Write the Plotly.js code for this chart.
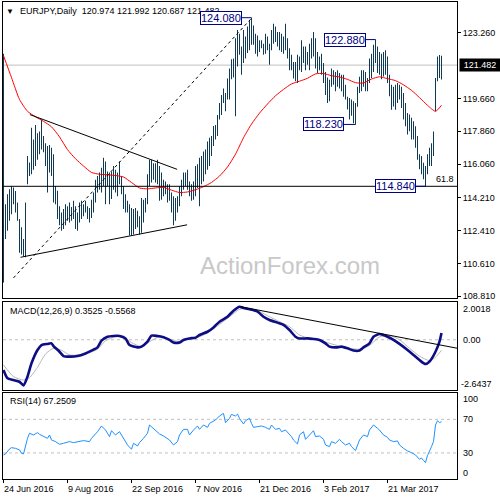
<!DOCTYPE html>
<html>
<head>
<meta charset="utf-8">
<script src="https://cdn.plot.ly/plotly-3.0.1.min.js"></script>
<style>html,body{margin:0;padding:0;background:#fff;}#chart{width:500px;height:500px;}</style>
</head>
<body>
<div id="chart"></div>
<script>
// ---- Daily bars (high / low), bar index 0 = 24 Jun 2016 ----
const hi = [122.10,113.86,114.40,114.68,114.86,114.77,114.58,113.95,113.05,112.60,
111.95,113.95,116.50,116.15,118.05,117.40,118.20,117.75,117.85,118.50,
117.60,117.20,117.05,117.10,116.95,116.60,114.85,114.60,113.75,113.40,
113.60,113.85,113.75,113.95,113.70,114.05,113.75,113.40,113.95,114.05,
113.85,114.05,113.75,113.65,114.10,114.50,115.20,115.40,115.60,115.85,
116.40,116.20,115.65,115.60,115.65,115.95,115.75,115.60,116.20,115.40,
114.85,114.40,114.05,113.85,113.65,113.60,113.65,113.50,113.20,114.20,
114.10,114.20,115.50,116.30,116.30,116.10,116.10,116.30,115.95,115.60,
115.20,115.10,114.95,114.95,114.50,114.30,114.20,114.30,114.85,115.20,
115.60,115.60,115.75,115.10,114.95,115.10,115.95,116.05,116.40,116.50,
116.75,116.85,117.30,117.50,117.60,118.15,118.20,118.75,119.40,119.85,
120.20,119.95,120.75,121.30,121.80,121.85,122.95,123.40,123.20,122.50,
123.40,123.05,123.60,123.95,124.08,123.65,123.20,123.10,122.85,122.85,
122.65,123.20,123.05,122.65,123.40,123.75,123.60,123.30,123.30,123.20,
123.05,123.75,122.95,122.40,122.05,121.65,121.65,122.05,121.95,122.85,
122.50,122.50,122.20,122.65,122.95,123.30,122.95,122.20,121.95,122.10,
121.60,121.10,120.80,120.68,121.30,121.20,121.10,121.20,121.05,120.95,
120.95,120.40,119.75,119.68,119.60,119.50,119.40,120.30,120.85,121.20,
121.20,121.10,120.77,121.85,122.10,122.60,122.88,122.50,122.20,122.10,
122.20,122.30,121.95,120.95,120.40,120.30,120.40,120.50,120.40,120.30,
119.95,119.40,118.86,118.77,118.60,118.40,118.13,117.60,116.60,116.50,
116.13,115.95,116.60,116.95,117.20,117.85,120.77,121.95,122.04,121.992];
const lo = [109.57,111.95,112.40,112.95,113.31,113.86,113.40,112.95,111.20,111.10,
111.00,110.95,114.95,115.40,115.50,115.75,115.95,116.30,116.60,116.85,
116.70,115.95,114.50,115.60,115.40,113.95,113.85,113.05,112.70,112.40,
112.50,112.70,112.95,112.85,112.95,113.05,112.50,112.40,112.85,113.05,
113.20,113.40,113.05,112.85,113.10,113.40,113.95,114.50,114.65,114.50,
114.85,113.85,114.85,113.85,114.15,114.65,114.50,114.30,114.95,114.40,
113.60,113.40,113.40,112.15,112.15,112.20,112.50,112.60,112.20,112.30,
112.85,113.40,113.85,114.85,115.05,115.20,115.05,114.95,114.05,114.10,
114.30,114.40,113.95,114.05,113.40,112.70,112.95,113.40,113.75,114.30,
114.65,114.85,114.65,114.30,114.05,114.10,114.30,114.75,113.75,114.95,
115.10,115.50,115.75,115.95,116.50,117.05,117.40,117.60,118.50,118.75,
119.40,118.95,119.60,119.60,120.70,120.80,118.68,121.40,122.05,120.95,
121.60,121.85,122.15,122.30,122.60,122.60,122.10,121.95,122.20,122.40,
122.05,122.10,122.30,121.50,122.30,122.65,122.75,122.50,122.30,122.20,
122.10,122.30,121.85,121.20,121.20,120.75,120.60,120.50,121.20,121.10,
121.60,121.20,121.50,121.20,121.85,121.95,121.30,121.05,121.20,120.95,
120.50,119.85,119.40,119.50,120.30,120.40,120.05,120.30,120.20,120.05,
119.75,119.60,119.05,118.50,118.70,118.30,118.23,119.20,119.95,120.05,
120.30,120.05,120.05,120.50,120.77,121.10,121.60,121.05,120.95,120.70,
120.86,120.95,120.50,119.77,119.04,119.22,119.04,119.40,119.60,119.13,
118.50,118.13,117.68,117.86,117.40,117.40,116.95,116.30,115.77,115.50,
115.22,114.84,115.50,115.95,115.95,116.50,118.95,120.60,120.77,120.687];

// ---- Moving average (red), sampled ----
const maIdx = [0,4,8,12,16,20,24,28,32,36,40,44,48,52,56,60,64,68,72,76,80,84,88,92,96,100,104,108,112,116,120,124,128,132,136,140,144,148,152,156,160,164,168,172,176,180,184,188,192,196,200,204,208,212,216,219];
const maVal = [122.0,120.8,119.6,118.95,118.65,118.4,118.1,117.55,116.85,116.35,115.95,115.6,115.5,115.47,115.43,115.35,115.05,114.75,114.7,114.75,114.78,114.63,114.5,114.53,114.65,114.82,115.05,115.4,115.9,116.6,117.5,118.25,118.85,119.35,119.8,120.15,120.45,120.6,120.76,121.0,121.02,120.9,120.83,120.7,120.52,120.5,120.72,120.84,120.74,120.63,120.4,120.1,119.7,119.28,118.95,119.28];

// ---- MACD(12,26,9) main line and signal, sampled ----
const macdIdx = [0,2,5,8,10,12,14,17,19,22,24,25,28,30,33,37,41,44,47,49,52,55,58,61,63,67,69,72,74,77,80,83,85,88,90,93,96,98,102,105,108,112,115,118,120,123,127,130,133,137,140,143,146,148,152,155,158,161,163,167,169,172,175,178,180,183,185,188,192,195,198,202,205,208,211,213,216,218,219];
const macdVal = [-1.59,-2.03,-2.12,-2.21,-2.40,-1.94,-1.24,-0.54,-0.28,-0.22,-0.19,-0.33,-0.63,-0.86,-0.89,-0.86,-0.72,-0.57,-0.40,-0.05,0.16,0.20,0.20,0.07,-0.28,-0.40,-0.36,-0.10,0.22,0.20,0.13,-0.01,-0.15,-0.15,-0.01,0.07,0.11,0.25,0.42,0.65,0.95,1.21,1.53,1.74,1.67,1.60,1.48,1.21,1.04,0.90,0.78,0.51,0.16,0.07,0.07,0.04,-0.01,-0.19,-0.36,-0.40,-0.36,-0.45,-0.57,-0.57,-0.40,-0.19,0.16,0.30,0.16,-0.01,-0.22,-0.54,-0.80,-1.07,-1.28,-1.15,-0.63,-0.10,0.3525];
const sigIdx = [0,5,10,13,17,21,25,29,33,38,43,47,51,56,60,64,69,73,78,83,88,93,98,103,108,113,118,123,128,133,138,143,148,153,158,163,168,173,178,183,188,193,198,203,208,213,216,219];
const sigVal = [-1.33,-1.94,-2.12,-2.0,-1.45,-0.75,-0.45,-0.55,-0.80,-0.80,-0.68,-0.50,-0.05,0.16,0.16,-0.15,-0.36,-0.10,0.16,0.02,-0.10,0.07,0.16,0.43,0.81,1.21,1.60,1.65,1.48,1.21,0.95,0.69,0.25,0.07,-0.01,-0.19,-0.33,-0.45,-0.50,-0.30,0.15,0.22,0.0,-0.45,-0.86,-1.10,-0.92,-0.5568];

// ---- RSI(14), sampled ----
const rsiIdx = [0,1,3,4,6,8,9,10,12,13,15,17,18,20,22,23,24,26,28,30,32,33,35,38,40,43,44,47,49,51,53,54,56,58,59,61,62,64,65,67,68,70,72,73,75,77,78,80,82,83,85,87,88,90,92,93,95,97,98,100,102,103,106,108,110,111,113,114,116,117,118,120,121,123,124,125,127,129,131,133,134,136,138,139,141,143,144,145,147,148,150,151,153,155,156,158,160,161,163,164,166,168,169,171,173,174,176,177,178,180,182,183,185,187,188,190,192,193,195,197,198,200,202,204,206,208,209,210,211,212,213,214,215,216,217,218,219];
const rsiVal = [27.6,28.8,34.8,36.3,35.5,33.6,29.6,28.8,47.4,53.4,51.4,54.2,52.2,49.4,47.4,51.4,45.4,43.5,40.3,41.5,42.7,43.5,42.3,43.5,44.7,43.5,47.4,55.3,62.1,57.3,49.4,56.5,51.4,55.3,51.4,43.5,39.5,34.4,41.5,38.3,42.3,47.4,53.4,63.3,59.3,54.2,52.6,50.2,47.4,45.4,39.5,43.5,51.4,58.1,58.1,51.4,57.3,62.1,58.1,63.3,60.5,65.2,69.2,74.0,77.1,66.0,71.2,75.9,74.0,76.3,71.2,64.5,68.4,71.2,65.2,60.5,61.3,62.1,60.5,58.1,63.3,58.1,59.3,55.3,57.3,52.6,49.4,45.4,40.7,51.4,55.3,46.2,51.4,56.5,49.4,50.2,46.2,39.5,37.5,43.5,41.5,46.2,43.5,39.5,41.5,37.5,32.8,39.5,45.4,51.4,49.4,57.3,63.3,59.3,57.3,51.4,48.6,45.4,43.5,44.3,39.5,35.5,32.4,30.4,27.6,22.5,24.0,21.0,18.5,27.0,31.6,37.5,43.5,63.3,68.4,66.0,67.25];

// ---- Axis labels ----
const priceTicks = [108.81,110.61,112.41,114.21,116.06,117.86,119.66,123.26];
const dateTickIdx = [0,32,64,96,128,160,192];
const dateTickText = ['24 Jun 2016','9 Aug 2016','22 Sep 2016','7 Nov 2016','21 Dec 2016','3 Feb 2017','21 Mar 2017'];

// ---- Marked levels and drawn lines ----
const lastPrice = 121.482;
const fibLevel = 114.84;
const pivotLabels = ['124.080','122.880','118.230','114.840'];
const pivotPrice = [124.08,122.88,118.23,114.84];
const pivotBar = [124,186,176,211];
const pivotBoxEnd = [119,181,170,206];
const upperTri = {x:[13.2,86.8], y:[118.77,115.77]};
const lowerTri = {x:[8.5,91.8], y:[110.95,112.73]};
const dashedTrend = {x:[5,124], y:[109.82,124.05]};
const macdTrend = {x:[118.5,227], y:[1.74,-0.45]};

const idx = hi.map((_, i) => i);
const rng = hi.map((h, i) => +(h - lo[i]).toFixed(3));

const F = 'Liberation Sans, Arial, sans-serif';
const traces = [
  {type:'bar', x:idx, y:rng, base:lo, width:0.5, marker:{color:'#0f3a55', line:{width:0}}, xaxis:'x', yaxis:'y', hoverinfo:'skip'},
  {type:'scatter', mode:'lines', x:maIdx, y:maVal, line:{color:'#ff0000', width:1, shape:'spline', smoothing:0.6}, xaxis:'x', yaxis:'y'},
  {type:'scatter', mode:'lines', x:sigIdx, y:sigVal, line:{color:'#b4b4b4', width:1, shape:'spline', smoothing:0.6}, xaxis:'x2', yaxis:'y2'},
  {type:'scatter', mode:'lines', x:macdIdx, y:macdVal, line:{color:'#0d0d86', width:2.6, shape:'spline', smoothing:0.6}, xaxis:'x2', yaxis:'y2'},
  {type:'scatter', mode:'lines', x:rsiIdx, y:rsiVal, line:{color:'#1e90ff', width:1}, xaxis:'x3', yaxis:'y3'}
];

const axBase = {showgrid:false, zeroline:false, showline:true, mirror:true, linecolor:'#000', linewidth:1, fixedrange:true};
const xr = [-0.25, 226.75];

const shapes = [
  {type:'line', xref:'paper', yref:'y', x0:0, x1:1, y0:lastPrice, y1:lastPrice, line:{color:'#c0c0c0', width:1}, layer:'below'},
  {type:'line', xref:'paper', yref:'y', x0:0, x1:1, y0:fibLevel, y1:fibLevel, line:{color:'#000', width:1}},
  {type:'line', xref:'x', yref:'y', x0:upperTri.x[0], x1:upperTri.x[1], y0:upperTri.y[0], y1:upperTri.y[1], line:{color:'#000', width:1}},
  {type:'line', xref:'x', yref:'y', x0:lowerTri.x[0], x1:lowerTri.x[1], y0:lowerTri.y[0], y1:lowerTri.y[1], line:{color:'#000', width:1}},
  {type:'line', xref:'x', yref:'y', x0:dashedTrend.x[0], x1:dashedTrend.x[1], y0:dashedTrend.y[0], y1:dashedTrend.y[1], line:{color:'#000', width:1, dash:'3px,3px'}},
  {type:'line', xref:'paper', yref:'y2', x0:0, x1:1, y0:0, y1:0, line:{color:'#c0c0c0', width:1, dash:'3px,3px'}, layer:'below'},
  {type:'line', xref:'x2', yref:'y2', x0:macdTrend.x[0], x1:macdTrend.x[1], y0:macdTrend.y[0], y1:macdTrend.y[1], line:{color:'#000', width:1}},
  {type:'line', xref:'paper', yref:'y3', x0:0, x1:1, y0:70, y1:70, line:{color:'#c0c0c0', width:1, dash:'3px,3px'}, layer:'below'},
  {type:'line', xref:'paper', yref:'y3', x0:0, x1:1, y0:30, y1:30, line:{color:'#c0c0c0', width:1, dash:'3px,3px'}, layer:'below'}
];
pivotPrice.forEach((p, k) => {
  shapes.push({type:'line', xref:'x', yref:'y', x0:pivotBoxEnd[k], x1:pivotBar[k], y0:p, y1:p, line:{color:'#000080', width:1}});
});

const ann = [];
const txt = (o) => Object.assign({showarrow:false, font:{family:F, size:9, color:'#000'}}, o);
ann.push(txt({xref:'paper', yref:'paper', x:0.0154, y:0.981, xanchor:'center', yanchor:'middle', text:'\u25BC', font:{family:F, size:8, color:'#000'}}));
ann.push(txt({xref:'paper', yref:'paper', x:0.0330, y:0.981, xanchor:'left', yanchor:'middle', text:'EURJPY,Daily\u00a0\u00a0120.974 121.992 120.687 121.482'}));
ann.push(txt({xref:'paper', yref:'paper', x:0.632, y:0.4486, xanchor:'center', yanchor:'middle', text:'ActionForex.com', font:{family:F, size:24, color:'#c8c8c8'}}));
pivotPrice.forEach((p, k) => {
  ann.push(txt({xref:'x', yref:'y', x:pivotBoxEnd[k], y:p, xanchor:'right', yanchor:'middle', text:pivotLabels[k], bgcolor:'#fff', bordercolor:'#000080', borderwidth:1, borderpad:0, font:{family:F, size:11, color:'#000080'}}));
});
ann.push(txt({xref:'paper', yref:'y', x:1, y:fibLevel, xanchor:'right', yanchor:'bottom', xshift:-1, yshift:0, text:'61.8'}));
ann.push(txt({xref:'paper', yref:'y', x:1, y:lastPrice, xanchor:'left', yanchor:'middle', xshift:2, text:'121.482', bgcolor:'#000', borderpad:0, width:40, height:12, font:{family:F, size:9, color:'#fff'}}));
ann.push(txt({xref:'paper', yref:'paper', x:0.011, y:0.3522, xanchor:'left', yanchor:'middle', text:'MACD(12,26,9) 0.3525 -0.5568'}));
ann.push(txt({xref:'paper', yref:'paper', x:0.011, y:0.1635, xanchor:'left', yanchor:'middle', text:'RSI(14) 67.2509'}));
ann.push(txt({xref:'paper', yref:'y2', x:1, y:2.0018, xanchor:'left', yanchor:'middle', xshift:4, yshift:-7, text:'2.0018'}));
ann.push(txt({xref:'paper', yref:'y2', x:1, y:0, xanchor:'left', yanchor:'middle', xshift:4, text:'0.00'}));
ann.push(txt({xref:'paper', yref:'y2', x:1, y:-2.6437, xanchor:'left', yanchor:'middle', xshift:2, yshift:6, text:'-2.6437'}));
ann.push(txt({xref:'paper', yref:'y3', x:1, y:100, xanchor:'left', yanchor:'middle', xshift:4, yshift:-5, text:'100'}));
ann.push(txt({xref:'paper', yref:'y3', x:1, y:70, xanchor:'left', yanchor:'middle', xshift:4, text:'70'}));
ann.push(txt({xref:'paper', yref:'y3', x:1, y:30, xanchor:'left', yanchor:'middle', xshift:4, text:'30'}));
ann.push(txt({xref:'paper', yref:'y3', x:1, y:0, xanchor:'left', yanchor:'middle', xshift:4, yshift:5, text:'0'}));
dateTickIdx.forEach((d, k) => {
  ann.push(txt({xref:'x3', yref:'paper', x:d, y:0, xanchor:'left', yanchor:'top', yshift:-3, xshift:-2, text:dateTickText[k]}));
});

const layout = {
  width:500, height:500,
  margin:{l:3, r:43, t:2, b:21, pad:0},
  paper_bgcolor:'#fff', plot_bgcolor:'#fff',
  showlegend:false, hovermode:false,
  font:{family:F, size:9, color:'#000'},
  xaxis: Object.assign({}, axBase, {domain:[0,1], range:xr, anchor:'y', showticklabels:false, ticks:''}),
  xaxis2: Object.assign({}, axBase, {domain:[0,1], range:xr, anchor:'y2', showticklabels:false, ticks:''}),
  xaxis3: Object.assign({}, axBase, {domain:[0,1], range:xr, anchor:'y3', showticklabels:false, ticks:'outside', ticklen:3, tickcolor:'#000', tickvals:dateTickIdx}),
  yaxis: Object.assign({}, axBase, {domain:[0.3795,1], range:[108.72,124.94], anchor:'x', side:'right', tickvals:priceTicks, tickformat:'.3f', ticks:'outside', ticklen:3, tickcolor:'#000', tickfont:{family:F, size:9, color:'#000'}}),
  yaxis2: Object.assign({}, axBase, {domain:[0.1866,0.3717], range:[-2.6437,2.0018], anchor:'x2', side:'right', showticklabels:false, ticks:''}),
  yaxis3: Object.assign({}, axBase, {domain:[0,0.1809], range:[-1,101.7], anchor:'x3', side:'right', showticklabels:false, ticks:''}),
  shapes: shapes,
  annotations: ann
};

Plotly.newPlot('chart', traces, layout, {staticPlot:true, displayModeBar:false});
</script>
</body>
</html>
